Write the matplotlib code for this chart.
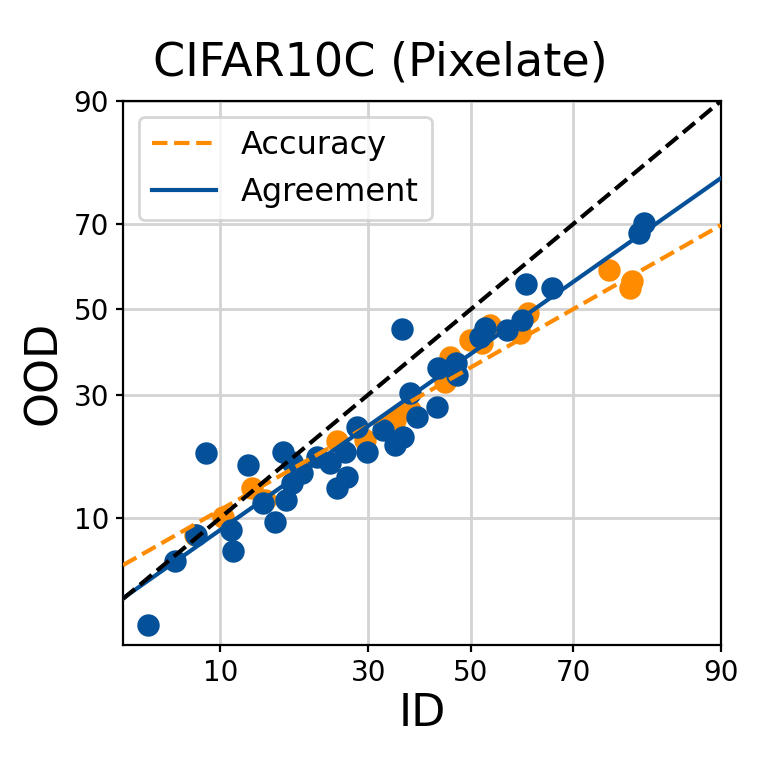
import numpy as np
import matplotlib
matplotlib.use("Agg")
import matplotlib.pyplot as plt
from statistics import NormalDist

# ID / OOD values (%)
agr_id = [4.9, 6.5, 8.0, 8.8, 11.0, 11.2, 12.7, 14.4, 15.8, 17.2, 16.8, 18.0, 19.4,
          21.5, 23.5, 24.7, 26.3, 26.0, 28.0, 29.7, 32.6, 34.9, 36.4, 37.8, 39.1,
          43.1, 36.2, 43.3, 47.1, 47.3, 51.8, 52.9, 57.3, 60.3, 61.1, 66.1, 80.6,
          81.3, 18.0]
agr_ood = [2.6, 6.1, 8.3, 18.8, 8.7, 6.9, 16.9, 11.7, 9.5, 12.0, 19.0, 14.3, 15.7,
           18.2, 17.2, 13.6, 15.1, 19.0, 23.5, 19.0, 22.9, 20.2, 21.6, 30.3, 25.4,
           27.4, 45.2, 35.9, 37.1, 34.3, 43.2, 45.4, 44.9, 47.4, 56.2, 55.2, 68.0,
           70.2, 17.4]

acc_id = [13.1, 24.7, 44.7, 45.7, 52.4, 53.9, 59.9, 61.5, 76.0, 79.6, 79.2, 10.2,
          7.9, 37.8, 19.1, 29.4, 34.9, 49.8, 14.6]
acc_ood = [13.6, 20.9, 32.7, 38.5, 41.8, 46.2, 44.2, 49.1, 59.5, 56.9, 55.2, 10.1,
           8.3, 26.8, 16.2, 21.1, 24.8, 42.5, 12.0]

# linear fits in probit space: (slope, intercept)
acc_fit = (0.683, -0.357)
agr_fit = (0.844, -0.274)

ticks = [10, 30, 50, 70, 90]
x_lim = (3.75, 90)
y_lim = (1.95, 90)

_nd = NormalDist()
_ppf = np.vectorize(lambda p: _nd.inv_cdf(min(max(p, 1e-9), 1 - 1e-9)), otypes=[float])
_cdf = np.vectorize(_nd.cdf, otypes=[float])


def fwd(v):
    return _ppf(np.asarray(v, dtype=float) / 100.0)


def inv(z):
    return _cdf(np.asarray(z, dtype=float)) * 100.0


orange = "#ff8c00"
blue = "#04519a"

fig = plt.figure(figsize=(3.805, 3.805), dpi=200)
ax = fig.add_axes([0.1616, 0.1524, 0.7858, 0.7149])
ax.set_xscale("function", functions=(fwd, inv))
ax.set_yscale("function", functions=(fwd, inv))

ax.scatter(acc_id, acc_ood, s=50, color=orange, zorder=3)
ax.scatter(agr_id, agr_ood, s=50, color=blue, zorder=4)

zx = np.linspace(fwd(x_lim[0]), fwd(x_lim[1]), 200)
xs = inv(zx)
ax.plot(xs, inv(acc_fit[0] * zx + acc_fit[1]), "--", color=orange, lw=1.5,
        label="Accuracy", zorder=5)
ax.plot(xs, inv(agr_fit[0] * zx + agr_fit[1]), "-", color=blue, lw=1.5,
        label="Agreement", zorder=5)
ax.plot(xs, xs, "--", color="black", lw=1.5, zorder=5)

ax.set_xlim(*x_lim)
ax.set_ylim(*y_lim)
ax.set_xticks(ticks)
ax.set_yticks(ticks)
ax.set_xticklabels([str(t) for t in ticks])
ax.set_yticklabels([str(t) for t in ticks])
ax.minorticks_off()
ax.tick_params(labelsize=10, length=2.5, pad=2.5)
ax.grid(True, color="#d3d3d3", lw=1.0, zorder=0)
ax.set_axisbelow(True)

ax.set_xlabel("ID", fontsize=16, labelpad=2)
ax.set_ylabel("OOD", fontsize=16, labelpad=3)
fig.text(0.5, 1 - 75 / 761, "CIFAR10C (Pixelate)", fontsize=16.6,
         ha="center", va="baseline")
ax.legend(loc="upper left", fontsize=11.5)

fig.savefig("out.png", dpi=200)
